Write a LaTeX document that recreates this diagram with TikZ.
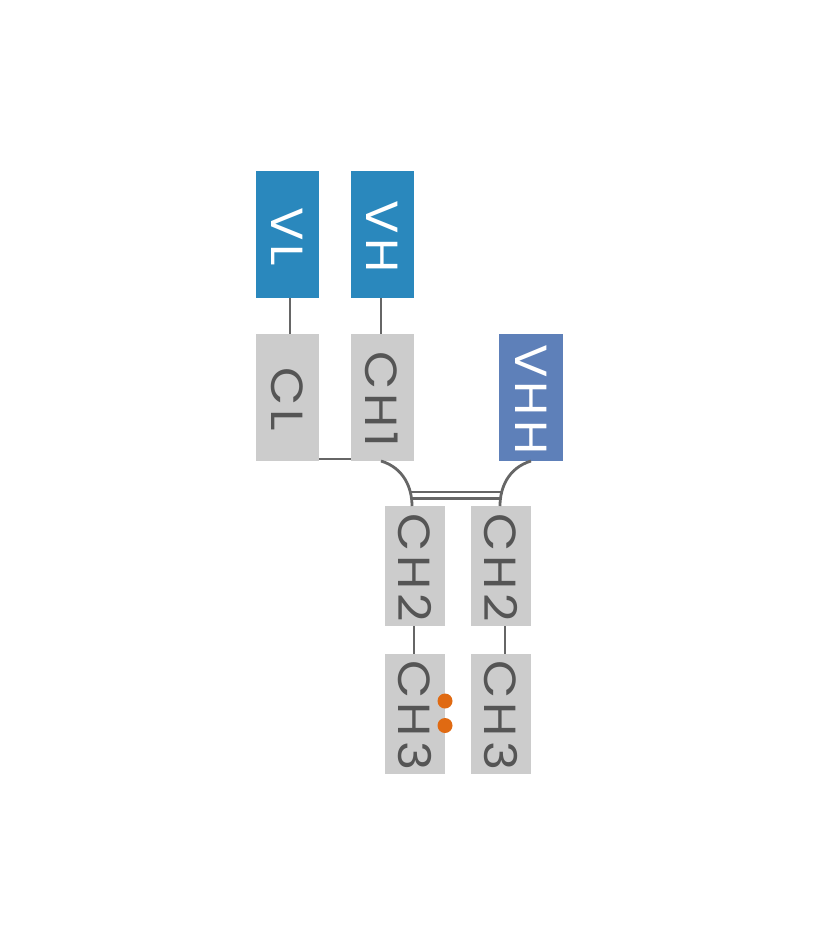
\documentclass[tikz,border=0pt]{standalone}
\usepackage{fontspec}
\setmainfont{Poppins}[LetterSpace=8]
\definecolor{vblue}{HTML}{2A88BD}
\definecolor{vhh}{HTML}{5E80B9}
\definecolor{cgray}{HTML}{CCCCCC}
\definecolor{tgray}{HTML}{555555}
\definecolor{lgray}{HTML}{666666}
\definecolor{dot}{HTML}{E06A12}
\tikzset{
  dom/.style={inner sep=0pt, outer sep=0pt, font=\fontsize{45}{45}\selectfont},
  vbox/.style={dom, fill=vblue, text=white, minimum width=63pt, minimum height=127pt},
  hbox/.style={dom, fill=vhh, text=white, minimum width=64pt, minimum height=127pt},
  cbox/.style={dom, fill=cgray, text=tgray, minimum width=63pt, minimum height=127pt},
  sbox/.style={dom, fill=cgray, text=tgray, minimum width=60pt, minimum height=120pt},
  link/.style={draw=lgray, line width=2.8pt},
  thin link/.style={draw=lgray, line width=2.3pt},
  bond/.style={fill=dot, draw=none}
}
\newcommand{\vt}[1]{\rotatebox[origin=c]{-90}{\scalebox{1.1}[1]{#1\kern-3.6pt}}}
\begin{document}
\begin{tikzpicture}[x=1pt,y=-1pt]
\useasboundingbox (0,0) rectangle (819,946);
\node[vbox] (vl) at (287.5,234.5) {\vt{VL}};
\node[vbox] (vh) at (382,234.5) {\vt{VH}};
\node[cbox] (cl) at (287.5,397.5) {\vt{CL}};
\node[cbox] (ch1) at (382,397.5) {\vt{CH1}};
\node[hbox] (vhh) at (531,397.5) {\vt{VHH}};
\node[sbox] (ch2a) at (415,566) {\vt{CH2}};
\node[sbox] (ch2b) at (501,566) {\vt{CH2}};
\node[sbox] (ch3a) at (415,713.5) {\vt{CH3}};
\node[sbox] (ch3b) at (501,713.5) {\vt{CH3}};
\draw[link] ([xshift=2.5pt]vl.south) -- ([xshift=2.5pt]cl.north);
\draw[link] ([xshift=-1pt]vh.south) -- ([xshift=-1pt]ch1.north);
\draw[link] ([yshift=2pt]cl.south east) -- ([yshift=2pt]ch1.south west);
\draw[link] ([xshift=-1pt]ch1.south) .. controls (404,468) and (412,488) .. ([xshift=-3pt]ch2a.north);
\draw[link] ([xshift=0pt]vhh.south) .. controls (508,468) and (500,488) .. ([xshift=-1pt]ch2b.north);
\coordinate (la1) at (410.5,492);
\coordinate (lb1) at (501.5,492);
\coordinate (la2) at (411.5,498.5);
\coordinate (lb2) at (500.5,498.5);
\draw[thin link] (la1) -- (lb1);
\draw[thin link] (la2) -- (lb2);
\draw[link] ([xshift=-1pt]ch2a.south) -- ([xshift=-1pt]ch3a.north);
\draw[link] ([xshift=4pt]ch2b.south) -- ([xshift=4pt]ch3b.north);
\node[bond, circle, minimum size=15pt, inner sep=0pt] (d1) at (445,701) {};
\node[bond, circle, minimum size=15pt, inner sep=0pt] (d2) at (445,725.5) {};
\end{tikzpicture}
\end{document}
